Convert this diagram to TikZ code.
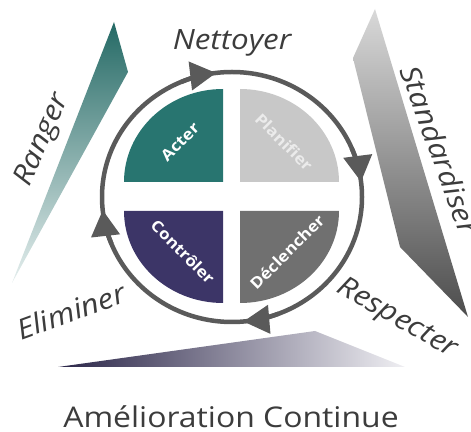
\documentclass[tikz,border=0pt]{standalone}
\usepackage{fontspec}
\setmainfont{Open Sans}[FakeStretch=1.12]
\usetikzlibrary{arrows.meta,calc}

\definecolor{acterteal}{HTML}{287570}
\definecolor{planifgrey}{HTML}{C8C8C8}
\definecolor{declgrey}{HTML}{707070}
\definecolor{controlpurple}{HTML}{3C3567}
\definecolor{ringgrey}{HTML}{5A5A5A}
\definecolor{textgrey}{HTML}{3C3C3C}

\tikzset{
  ring/.style={draw=ringgrey, line width=4.5pt},
  ringtip/.style={ring, -{Triangle[length=26pt,width=28pt]}},
  steplabel/.style={text=white, inner sep=0pt, font=\bfseries\fontsize{15.5}{15.5}\selectfont},
  sidelabel/.style={text=textgrey, inner sep=0pt, font=\itshape\fontsize{28}{28}\selectfont},
  titlelabel/.style={text=textgrey, inner sep=0pt, font=\fontsize{28.5}{28.5}\selectfont}
}

\begin{document}
\begin{tikzpicture}[x=1pt, y=1pt]
    \useasboundingbox (0,0) rectangle (471,431);
    \coordinate (c) at (232,234);

    \shade[top color=acterteal!90!black, bottom color=acterteal!12] (114,409) -- (128,359) -- (12,148) -- cycle;
    \shade[top color=black!15, bottom color=black!70] (375,422) -- (353,373) -- (400,184) -- (468,114) -- cycle;
    \shade[left color=controlpurple!70!black, middle color=controlpurple!85, right color=controlpurple!8] (58,64) -- (315,100) -- (405,64) -- cycle;

    \fill[acterteal] (223,249) -- (124,249) arc[start angle=180, end angle=90, x radius=99, y radius=93] -- cycle;
    \fill[planifgrey] (240,249) -- (339,249) arc[start angle=0, end angle=90, x radius=99, y radius=93] -- cycle;
    \fill[controlpurple] (223,220) -- (124,220) arc[start angle=180, end angle=270, x radius=99, y radius=92] -- cycle;
    \fill[declgrey] (240,220) -- (339,220) arc[start angle=0, end angle=-90, x radius=99, y radius=92] -- cycle;

    \node[steplabel, rotate=45] (acter) at (180,289) {Acter};
    \node[steplabel, rotate=-45, text=white!92!black] (planifier) at (284,289) {Planifier};
    \node[steplabel, rotate=-45] (controler) at (183,179) {Contrôler};
    \node[steplabel, rotate=45] (declencher) at (287,179) {Déclencher};

    \draw[ring] (c) ellipse [x radius=130, y radius=125];
    \draw[ringtip] ($(c)+(113:130 and 125)$) arc[start angle=113, end angle=97, x radius=130, y radius=125];
    \draw[ringtip] ($(c)+(23:130 and 125)$) arc[start angle=23, end angle=7, x radius=130, y radius=125];
    \draw[ringtip] ($(c)+(-69:130 and 125)$) arc[start angle=-69, end angle=-85, x radius=130, y radius=125];
    \draw[ringtip] ($(c)+(202:130 and 125)$) arc[start angle=202, end angle=186, x radius=130, y radius=125];

    \node[sidelabel, anchor=base] (nettoyer) at (232,381) {Nettoyer};
    \node[sidelabel, rotate=66] (ranger) at (43,291) {Ranger};
    \node[sidelabel, rotate=-70] (standardiser) at (440,281) {Standardiser};
    \node[sidelabel, rotate=20] (eliminer) at (71,120) {Eliminer};
    \node[sidelabel, rotate=-30] (respecter) at (397,112) {Respecter};
    \node[titlelabel, anchor=base] (amelioration) at (231,4) {Amélioration Continue};
\end{tikzpicture}
\end{document}
